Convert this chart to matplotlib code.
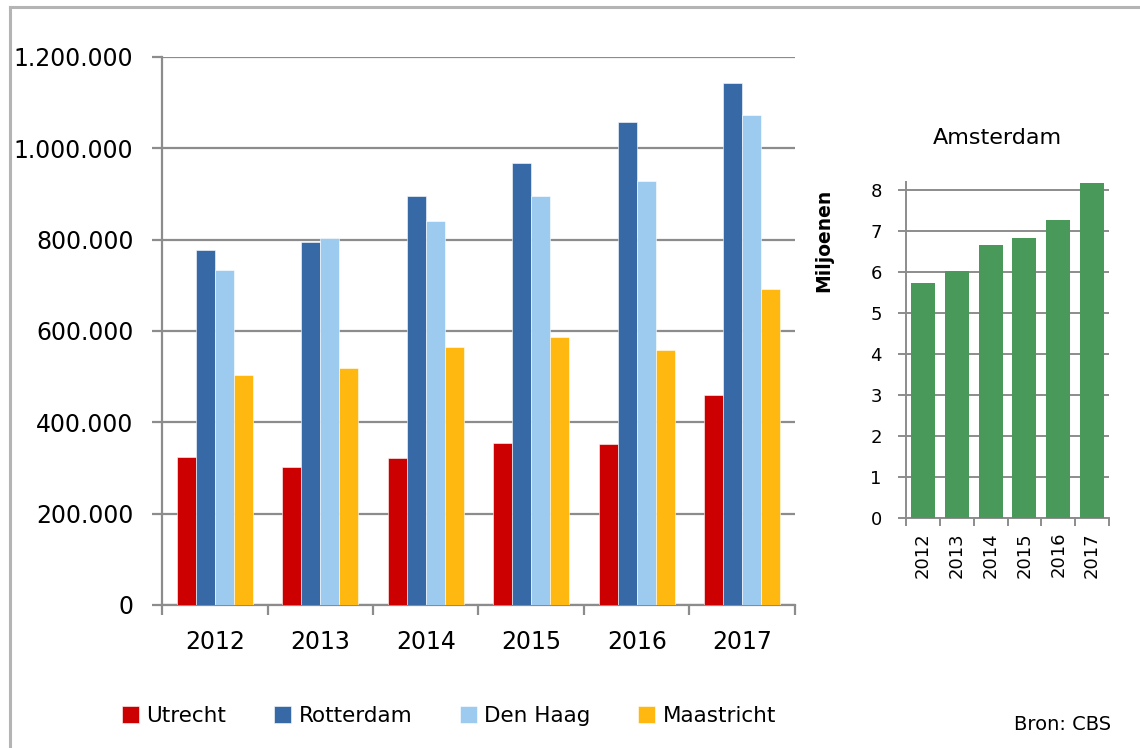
import matplotlib
matplotlib.use("Agg")
import matplotlib.pyplot as plt
import numpy as np
from matplotlib.ticker import FuncFormatter, FixedLocator
from matplotlib.lines import Line2D

years = ["2012", "2013", "2014", "2015", "2016", "2017"]
series_names = ["Utrecht", "Rotterdam", "Den Haag", "Maastricht"]
utrecht = [324000, 302000, 322000, 355000, 352000, 460000]
rotterdam = [777000, 795000, 896000, 968000, 1058000, 1143000]
den_haag = [733000, 804000, 841000, 896000, 928000, 1073000]
maastricht = [504000, 519000, 565000, 587000, 558000, 692000]
amsterdam = [5.73, 6.02, 6.66, 6.83, 7.27, 8.17]

colors = ["#CC0000", "#3769A7", "#9DCBF0", "#FFB80F"]
green = "#48995A"
grid_c = "#8c8c8c"

plt.rcParams['font.family'] = ['DejaVu Sans']

fig = plt.figure(figsize=(11.4, 7.48), dpi=100)

# outer frame (top and left visible)
fig.add_artist(Line2D([9.5/1140, 9.5/1140], [0, 1 - 6.5/748], transform=fig.transFigure, color="#b4b4b4", lw=2.2))
fig.add_artist(Line2D([9.5/1140, 1], [1 - 6.5/748, 1 - 6.5/748], transform=fig.transFigure, color="#b4b4b4", lw=2.2))

# ---- left chart ----
ax = fig.add_axes([162/1140, 1 - 605/748, 633/1140, 548/748])
x = np.arange(len(years))
bw = 0.18
data = [utrecht, rotterdam, den_haag, maastricht]
handles = []
for i, (vals, c, name) in enumerate(zip(data, colors, series_names)):
    b = ax.bar(x + (i - 1.5) * bw, vals, bw, color=c, label=name, zorder=3,
               edgecolor="white", linewidth=0.4)
    handles.append(b)
ax.set_xlim(-0.5, len(years) - 0.5)
ax.set_ylim(0, 1200000)
ax.set_yticks(np.arange(0, 1200001, 200000))
ax.yaxis.set_major_formatter(FuncFormatter(lambda v, p: f"{int(v):,}".replace(",", ".")))
ax.yaxis.grid(True, color=grid_c, lw=1.6, zorder=0)
ax.set_axisbelow(True)
for s in ["top", "right"]:
    ax.spines[s].set_visible(False)
for s in ["left", "bottom"]:
    ax.spines[s].set_color(grid_c)
    ax.spines[s].set_linewidth(1.6)
ax.set_xticks(x)
ax.set_xticklabels(years)
ax.xaxis.set_minor_locator(FixedLocator(np.arange(-0.5, len(years), 1.0)))
ax.tick_params(axis="x", which="major", length=0, pad=18, labelsize=17)
ax.tick_params(axis="x", which="minor", length=7, width=1.6, color=grid_c, direction="out")
ax.tick_params(axis="y", length=7.5, width=1.6, color=grid_c, pad=13, labelsize=17)

# ---- right chart ----
ax2 = fig.add_axes([906/1140, 1 - 518/748, 203/1140, 336/748])
x2 = np.arange(len(amsterdam))
ax2.bar(x2, amsterdam, 0.71, color=green, zorder=3)
ax2.set_xlim(-0.5, len(years) - 0.5)
ax2.set_ylim(0, 8.2)
ax2.set_yticks(np.arange(0, 9, 1))
ax2.yaxis.grid(True, color=grid_c, lw=1.4, zorder=0)
ax2.set_axisbelow(True)
for s in ["top", "right"]:
    ax2.spines[s].set_visible(False)
for s in ["left", "bottom"]:
    ax2.spines[s].set_color(grid_c)
    ax2.spines[s].set_linewidth(1.4)
ax2.set_xticks(x2)
ax2.set_xticklabels(years, rotation=90)
ax2.xaxis.set_minor_locator(FixedLocator(np.arange(-0.5, len(years), 1.0)))
ax2.tick_params(axis="x", which="major", length=0, pad=10, labelsize=13)
ax2.tick_params(axis="x", which="minor", length=5.5, width=1.4, color=grid_c, direction="out")
ax2.tick_params(axis="y", length=5.5, width=1.4, color=grid_c, pad=12, labelsize=13)

fig.text(824/1140, 1 - 240/748, "Miljoenen", rotation=90, ha="center", va="center",
         fontsize=13.5, fontweight="bold")
fig.text(997/1140, 1 - 138/748, "Amsterdam", ha="center", va="center", fontsize=16)

# legend
fig.legend(handles=handles, labels=series_names, loc="center", bbox_to_anchor=(449/1140, 1 - 716/748),
           ncol=4, frameon=False, fontsize=15.5, handlelength=0.8, handleheight=0.8,
           handletextpad=0.35, columnspacing=2.2)

fig.text(1111/1140, 1 - 725/748, "Bron: CBS", ha="right", va="center", fontsize=14)

fig.savefig("out.png", dpi=100, facecolor="white")
